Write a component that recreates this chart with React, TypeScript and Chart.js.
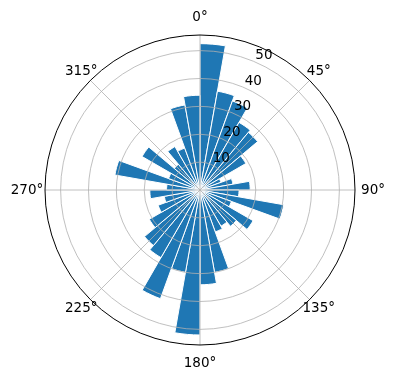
import React, { useEffect, useRef } from "react";
import { Chart, registerables } from "chart.js";

Chart.register(...registerables);

// Bin start directions (degrees, clockwise from north)
const directions = [
  0, 10, 20, 30, 40, 50, 60, 70, 80, 90, 100, 110, 120, 130, 140, 150, 160, 170,
  180, 190, 200, 210, 220, 230, 240, 250, 260, 270, 280, 290, 300, 310, 320, 330, 340, 350,
];

// Bar lengths
const radii = [
  52.5, 36, 34, 28, 27, 19, 8, 12, 18, 14, 30.5, 12, 22, 17, 15, 16, 30, 34,
  52, 30, 41.5, 28, 26, 21, 16, 13, 18, 12, 31, 12, 24, 12, 18, 16, 31, 34,
];

const radialTicks = [10, 20, 30, 40, 50];
const radialTickLabels = ["10", "20", "30", "40", "50"];
const angleTicks = [0, 45, 90, 135, 180, 225, 270, 315];
const angleTickLabels = ["0°", "45°", "90°", "135°", "180°", "225°", "270°", "315°"];
const rMax = 55.6;
const rLabelAngle = 22.5;

const overlayPlugin = {
  id: "polarOverlay",
  afterDatasetsDraw(chart: any) {
    const s = chart.scales.r;
    const ctx = chart.ctx as CanvasRenderingContext2D;
    const cx = s.xCenter;
    const cy = s.yCenter;
    const R = s.getDistanceFromCenterForValue(rMax);
    ctx.save();
    ctx.strokeStyle = "#b0b0b0";
    ctx.lineWidth = 0.8;
    for (const v of radialTicks) {
      const r = s.getDistanceFromCenterForValue(v);
      ctx.beginPath();
      ctx.arc(cx, cy, r, 0, Math.PI * 2);
      ctx.stroke();
    }
    for (const d of angleTicks) {
      const a = ((d - 90) * Math.PI) / 180;
      ctx.beginPath();
      ctx.moveTo(cx, cy);
      ctx.lineTo(cx + R * Math.cos(a), cy + R * Math.sin(a));
      ctx.stroke();
    }
    ctx.strokeStyle = "#000000";
    ctx.lineWidth = 1;
    ctx.beginPath();
    ctx.arc(cx, cy, R, 0, Math.PI * 2);
    ctx.stroke();

    ctx.fillStyle = "#000000";
    ctx.font = '13.5px "DejaVu Sans"';
    // angle labels
    ctx.textAlign = "center";
    ctx.textBaseline = "middle";
    angleTicks.forEach((d, i) => {
      const a = ((d - 90) * Math.PI) / 180;
      const diag = d % 90 !== 0;
      const dist = R + (diag ? 13 : 18);
      ctx.fillText(angleTickLabels[i], cx + dist * Math.cos(a), cy + dist * Math.sin(a));
    });
    // radial labels
    ctx.textAlign = "left";
    ctx.textBaseline = "bottom";
    const ra = ((rLabelAngle - 90) * Math.PI) / 180;
    radialTicks.forEach((v, i) => {
      const r = s.getDistanceFromCenterForValue(v);
      ctx.fillText(radialTickLabels[i], cx + r * Math.cos(ra) + 2, cy + r * Math.sin(ra) + 1);
    });
    ctx.restore();
  },
};

export default function App() {
  const canvasRef = useRef<HTMLCanvasElement | null>(null);

  useEffect(() => {
    if (!canvasRef.current) return;
    const chart = new Chart(canvasRef.current, {
      type: "polarArea",
      data: {
        labels: directions.map((d) => `${d}°`),
        datasets: [
          {
            data: radii,
            backgroundColor: "#1f77b4",
            borderColor: "#ffffff",
            borderWidth: 1,
          },
        ],
      },
      options: {
        responsive: true,
        maintainAspectRatio: false,
        animation: false,
        layout: { padding: { left: 45, right: 41, top: 35, bottom: 35 } },
        plugins: { legend: { display: false }, tooltip: { enabled: false } },
        scales: {
          r: {
            min: 0,
            max: rMax,
            startAngle: 0,
            ticks: { display: false },
            grid: { display: false },
            angleLines: { display: false },
            pointLabels: { display: false },
          },
        },
      },
      plugins: [overlayPlugin],
    });
    return () => chart.destroy();
  }, []);

  return (
    <div style={{ position: "absolute", left: 0, top: 0, width: 396, height: 380, background: "#fff" }}>
      <canvas ref={canvasRef} />
    </div>
  );
}
